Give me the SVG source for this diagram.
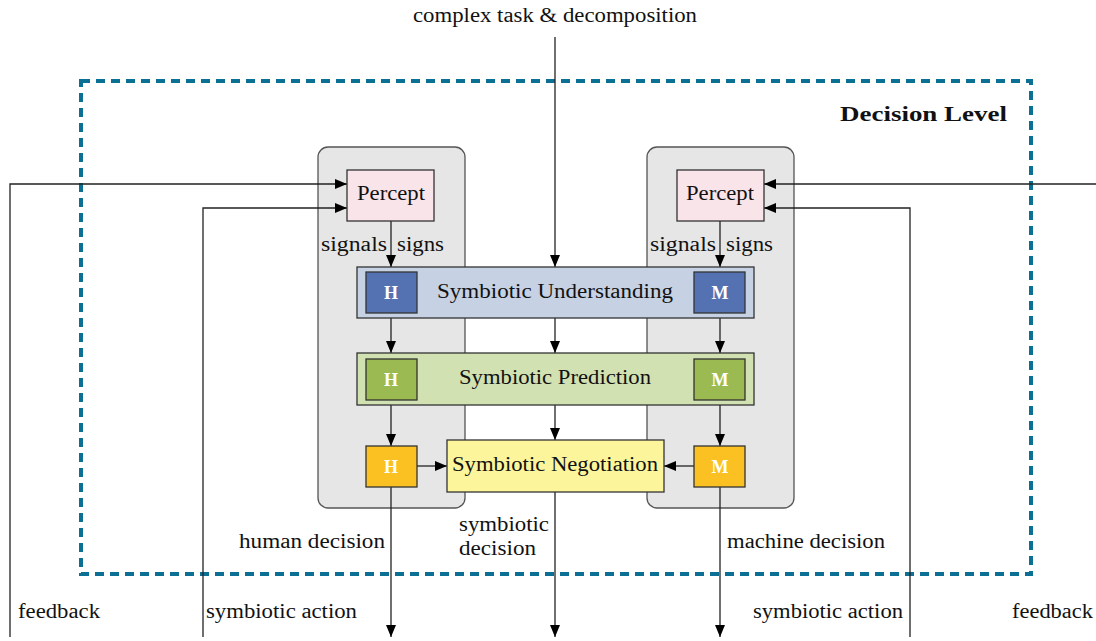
<svg xmlns="http://www.w3.org/2000/svg" width="1096" height="641" viewBox="0 0 1096 641">
<defs>
<marker id="ah" markerWidth="12" markerHeight="10" refX="12" refY="5" orient="auto" markerUnits="userSpaceOnUse">
<path d="M0,0 L12,5 L0,10 Z" fill="#000"/>
</marker>
<style>
text{font-family:"Liberation Serif","Times New Roman",serif;fill:#111;font-size:20px}
.c{text-anchor:middle}
.e{text-anchor:end}
.hm{font-weight:bold;fill:#fff;font-size:18px;text-anchor:middle}
.bx{stroke:#333;stroke-width:1.3}
.ln{stroke:#222;stroke-width:1.3;fill:none}
.ar{stroke:#222;stroke-width:1.3;fill:none;marker-end:url(#ah)}
</style>
</defs>
<rect width="1096" height="641" fill="#fff"/>
<g id="decision-level">
<rect x="81" y="81" width="950" height="493" fill="none" stroke="#0b7093" stroke-width="4" stroke-dasharray="9 6"/>
<text x="1007" y="121" text-anchor="end" font-weight="bold" font-size="22" textLength="167" lengthAdjust="spacingAndGlyphs">Decision Level</text>
</g>
<g id="human-panel"><rect x="318" y="147" width="147" height="361" rx="10" fill="#e6e6e6" stroke="#555" stroke-width="1.3"/></g>
<g id="machine-panel"><rect x="647" y="147" width="147" height="361" rx="10" fill="#e6e6e6" stroke="#555" stroke-width="1.3"/></g>
<g id="connectors">
<line class="ar" x1="555" y1="37" x2="555" y2="267"/>
<line class="ar" x1="555" y1="318" x2="555" y2="353"/>
<line class="ar" x1="555" y1="405" x2="555" y2="440"/>
<line class="ar" x1="555" y1="492" x2="555" y2="637"/>
<line class="ar" x1="391" y1="221" x2="391" y2="267"/>
<line class="ar" x1="391" y1="313" x2="391" y2="353"/>
<line class="ar" x1="391" y1="400" x2="391" y2="446"/>
<line class="ar" x1="391" y1="487" x2="391" y2="637"/>
<line class="ar" x1="720" y1="221" x2="720" y2="267"/>
<line class="ar" x1="720" y1="313" x2="720" y2="353"/>
<line class="ar" x1="720" y1="400" x2="720" y2="446"/>
<line class="ar" x1="720" y1="487" x2="720" y2="637"/>
<line class="ar" x1="417" y1="466" x2="447" y2="466"/>
<line class="ar" x1="694" y1="466" x2="664" y2="466"/>
<polyline class="ar" points="10,637 10,184 347,184"/>
<polyline class="ar" points="203,637 203,208 347,208"/>
<polyline class="ar" points="1096,184 764,184"/>
<polyline class="ar" points="910,637 910,208 764,208"/>
</g>
<g id="percept-h">
<rect class="bx" x="347" y="170" width="87" height="51" fill="#f9e4ea"/>
<text class="c" x="391" y="200" textLength="68" lengthAdjust="spacingAndGlyphs">Percept</text>
</g>
<g id="percept-m">
<rect class="bx" x="677" y="170" width="87" height="51" fill="#f9e4ea"/>
<text class="c" x="720" y="200" textLength="68" lengthAdjust="spacingAndGlyphs">Percept</text>
</g>
<g id="understanding">
<rect class="bx" x="357" y="267" width="397" height="51" fill="#c6d1e4"/>
<text class="c" x="555" y="298" textLength="236" lengthAdjust="spacingAndGlyphs">Symbiotic Understanding</text>
</g>
<g id="understanding-h"><rect class="bx" x="366" y="272" width="51" height="41" fill="#5471b1"/><text class="hm" x="391" y="299">H</text></g>
<g id="understanding-m"><rect class="bx" x="694" y="272" width="51" height="41" fill="#5471b1"/><text class="hm" x="720" y="299">M</text></g>
<g id="prediction">
<rect class="bx" x="357" y="353" width="397" height="52" fill="#d1e1b1"/>
<text class="c" x="555" y="384" textLength="192" lengthAdjust="spacingAndGlyphs">Symbiotic Prediction</text>
</g>
<g id="prediction-h"><rect class="bx" x="366" y="359" width="51" height="41" fill="#9bbb52"/><text class="hm" x="391" y="386">H</text></g>
<g id="prediction-m"><rect class="bx" x="694" y="359" width="51" height="41" fill="#9bbb52"/><text class="hm" x="720" y="386">M</text></g>
<g id="negotiation">
<rect class="bx" x="447" y="440" width="217" height="52" fill="#fdf59b"/>
<text class="c" x="555" y="471" textLength="206" lengthAdjust="spacingAndGlyphs">Symbiotic Negotiation</text>
</g>
<g id="negotiation-h"><rect class="bx" x="366" y="446" width="51" height="41" fill="#fbc021"/><text class="hm" x="391" y="473">H</text></g>
<g id="negotiation-m"><rect class="bx" x="694" y="446" width="51" height="41" fill="#fbc021"/><text class="hm" x="720" y="473">M</text></g>
<g id="labels">
<text class="c" x="555" y="22" textLength="284" lengthAdjust="spacingAndGlyphs">complex task &amp; decomposition</text>
<text x="321" y="251" textLength="66" lengthAdjust="spacingAndGlyphs">signals</text>
<text x="397" y="251" textLength="47" lengthAdjust="spacingAndGlyphs">signs</text>
<text x="650" y="251" textLength="66" lengthAdjust="spacingAndGlyphs">signals</text>
<text x="726" y="251" textLength="47" lengthAdjust="spacingAndGlyphs">signs</text>
<text x="239" y="548" textLength="146" lengthAdjust="spacingAndGlyphs">human decision</text>
<text x="459" y="531" textLength="90" lengthAdjust="spacingAndGlyphs">symbiotic</text>
<text x="459" y="555" textLength="77" lengthAdjust="spacingAndGlyphs">decision</text>
<text x="727" y="548" textLength="158" lengthAdjust="spacingAndGlyphs">machine decision</text>
<text x="18" y="618" textLength="82" lengthAdjust="spacingAndGlyphs">feedback</text>
<text x="206" y="618" textLength="151" lengthAdjust="spacingAndGlyphs">symbiotic action</text>
<text x="753" y="618" textLength="150" lengthAdjust="spacingAndGlyphs">symbiotic action</text>
<text x="1012" y="618" textLength="81" lengthAdjust="spacingAndGlyphs">feedback</text>
</g>
</svg>
